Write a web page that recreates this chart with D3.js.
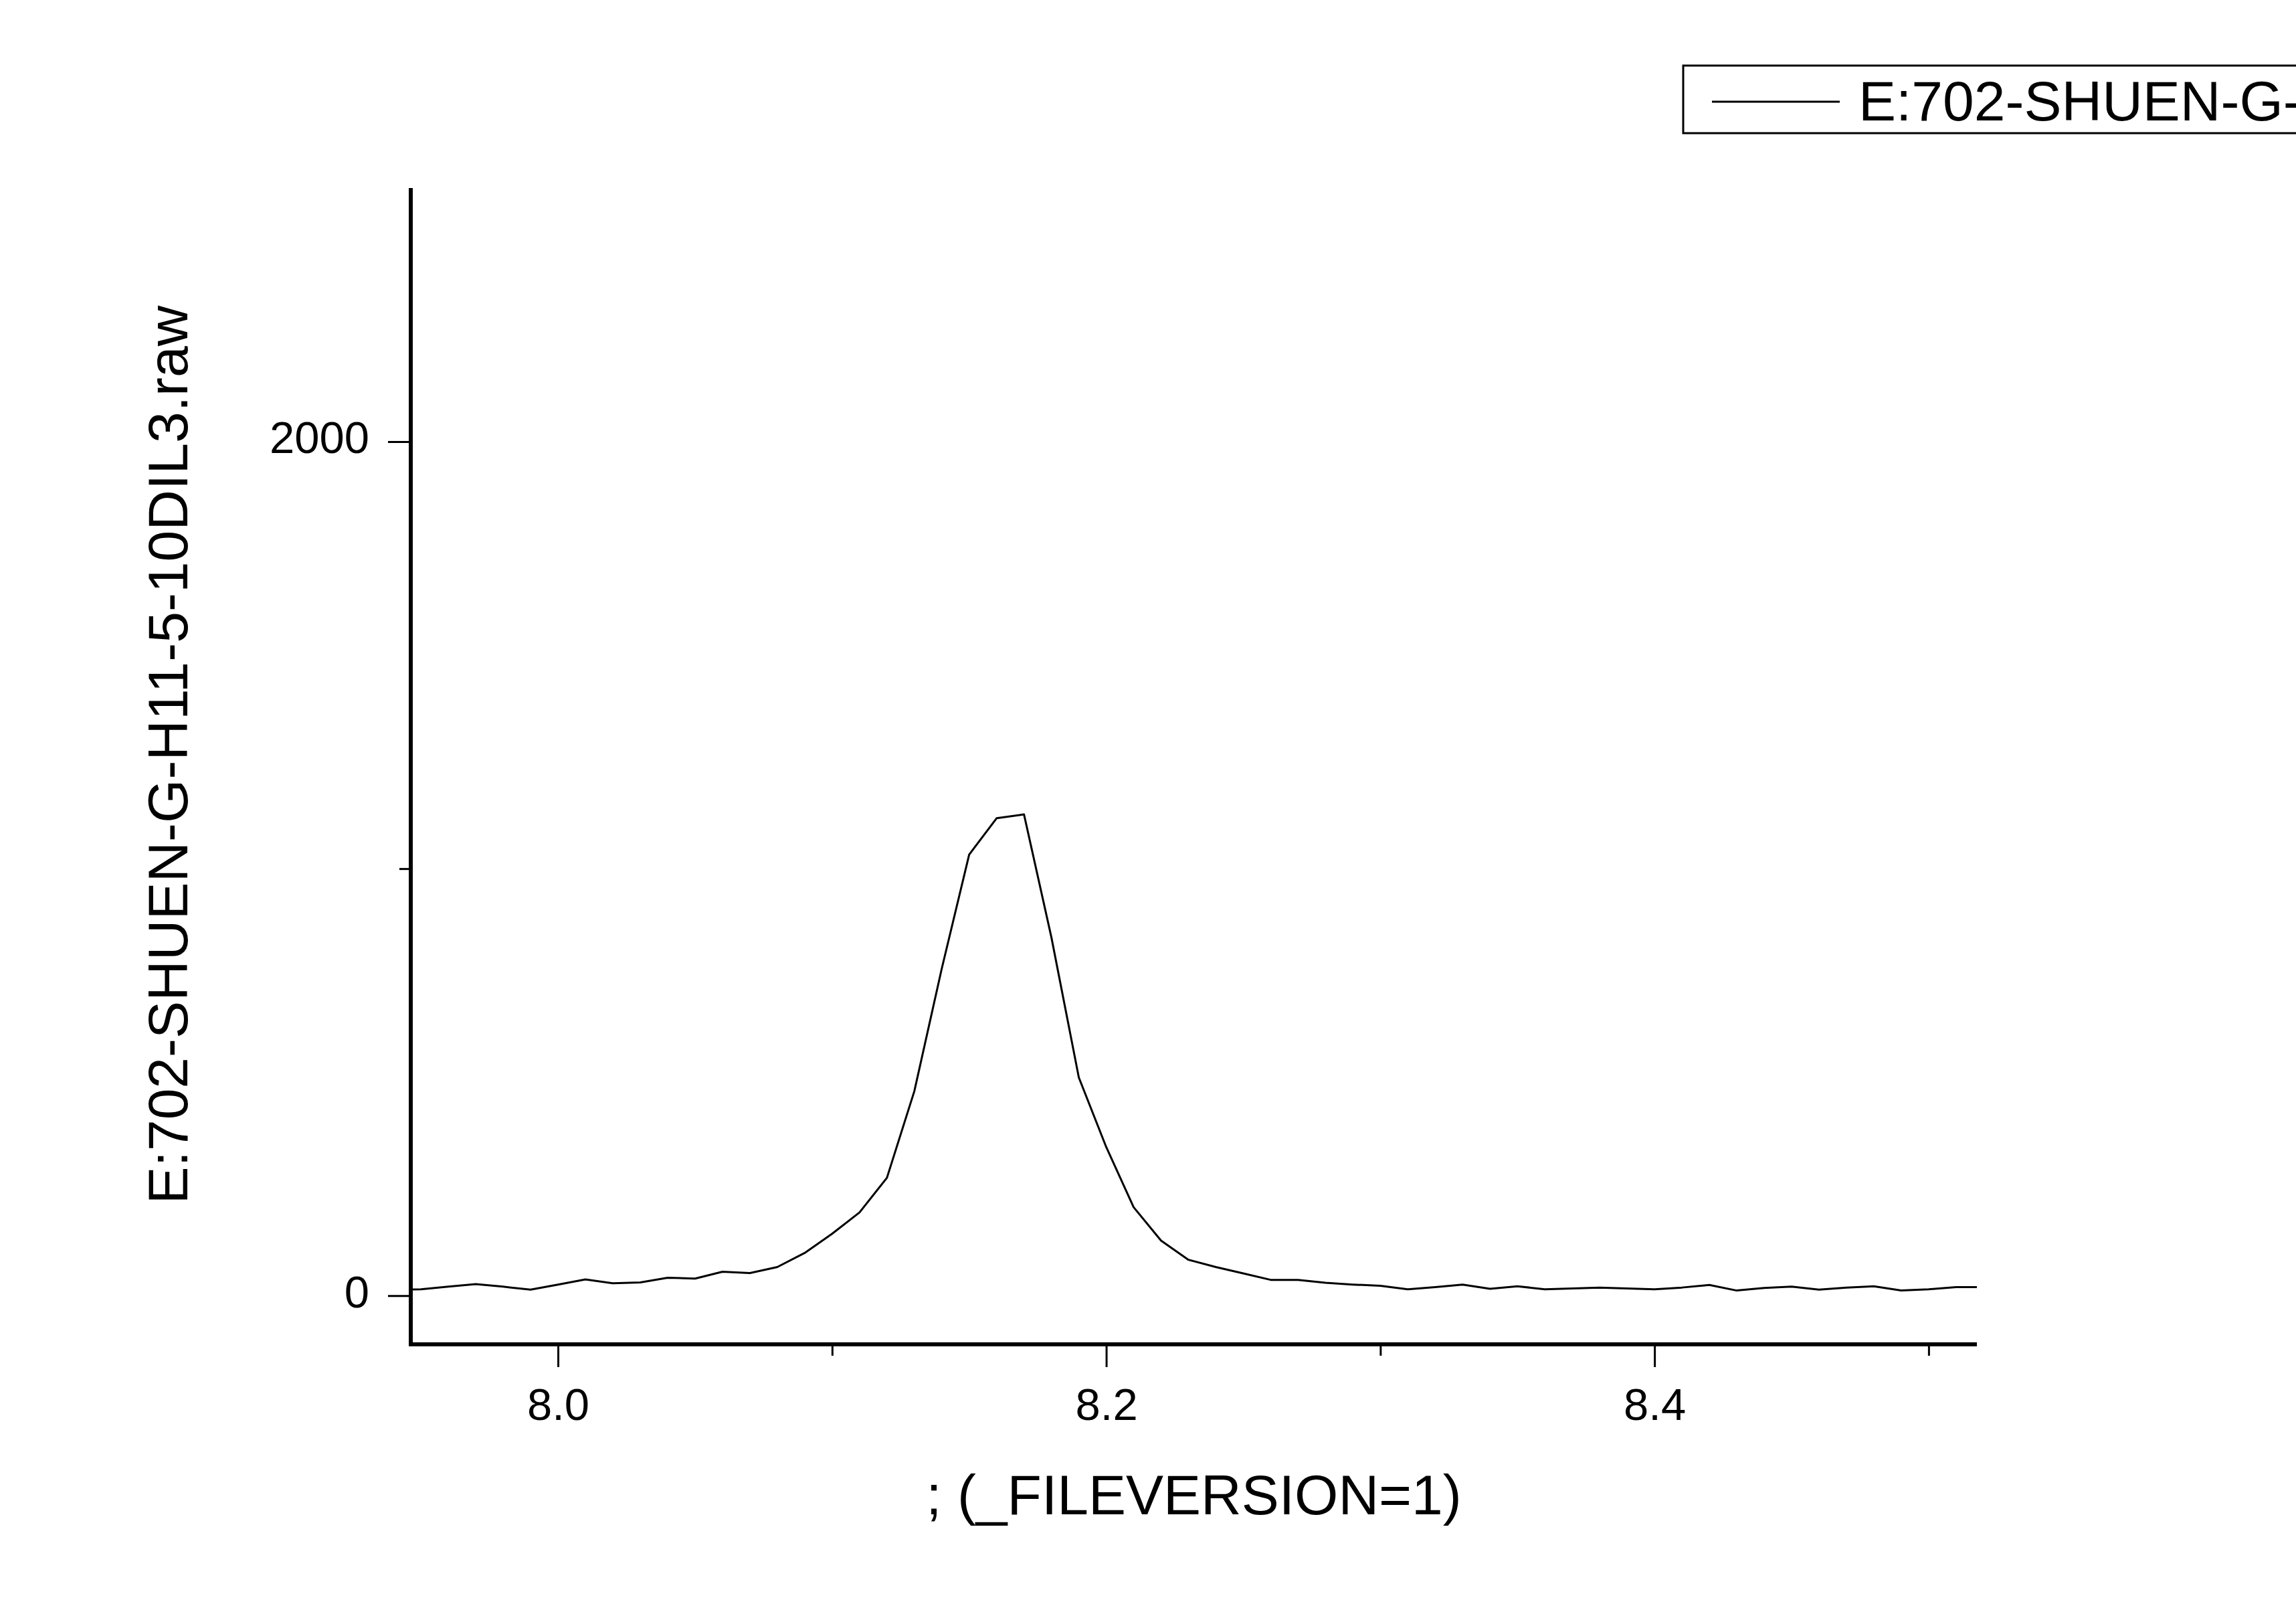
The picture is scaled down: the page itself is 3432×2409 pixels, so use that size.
<!DOCTYPE html>
<html>
<head>
<meta charset="utf-8">
<script src="https://d3js.org/d3.v7.min.js"></script>
<style>
  body { margin: 0; background: #fff; }
  svg { display: block; }
</style>
</head>
<body>
<div id="chart"></div>
<script>
// retention time (min) and intensity
var times = [7.94, 7.95, 7.96, 7.97, 7.98, 7.99, 8.00, 8.01, 8.02, 8.03,
             8.04, 8.05, 8.06, 8.07, 8.08, 8.09, 8.10, 8.11, 8.12, 8.13,
             8.14, 8.15, 8.16, 8.17, 8.18, 8.19, 8.20, 8.21, 8.22, 8.23,
             8.24, 8.25, 8.26, 8.27, 8.28, 8.29, 8.30, 8.31, 8.32, 8.33,
             8.34, 8.35, 8.36, 8.37, 8.38, 8.39, 8.40, 8.41, 8.42, 8.43,
             8.44, 8.45, 8.46, 8.47, 8.48, 8.49, 8.50, 8.51, 8.52];
var intensity = [14, 15, 21, 27, 21, 14, 26, 38, 29, 31,
                 42, 40, 56, 53, 67, 100, 145, 195, 276, 479,
                 766, 1033, 1118, 1127, 839, 511, 348, 207, 129, 84,
                 67, 52, 37, 37, 30, 26, 23, 15, 20, 26,
                 16, 22, 15, 17, 19, 17, 15, 19, 25, 12,
                 18, 21, 14, 19, 22, 12, 15, 20, 20];

var xMajorTicks = [8.0, 8.2, 8.4];
var xMinorTicks = [8.1, 8.3, 8.5];
var yMajorTicks = [0, 2000];
var yMinorTicks = [1000];

var seriesName = "E:702-SHUEN-G-H11-5-10DIL3.raw";
var xTitle = "; (_FILEVERSION=1)";

var W = 3432, H = 2409;
var plot = {left: 614, right: 2955, top: 281, bottom: 2009};
var font = "'Liberation Sans', Arial, sans-serif";

var svg = d3.select("#chart").append("svg")
    .attr("width", W)
    .attr("height", H);

var x = d3.scaleLinear().domain([7.9463, 8.5176]).range([plot.left, plot.right]);
var y = d3.scaleLinear().domain([-114, 2594]).range([plot.bottom, plot.top]);

var data = times.map(function(t, i) { return {t: t, v: intensity[i]}; });

svg.append("clipPath").attr("id", "plotclip")
  .append("rect")
    .attr("x", plot.left).attr("y", plot.top)
    .attr("width", plot.right - plot.left)
    .attr("height", plot.bottom - plot.top);

// the trace
var line = d3.line()
    .x(function(d) { return x(d.t); })
    .y(function(d) { return y(d.v); });

svg.append("path")
    .datum(data)
    .attr("clip-path", "url(#plotclip)")
    .attr("fill", "none")
    .attr("stroke", "#000")
    .attr("stroke-width", 3)
    .attr("stroke-linejoin", "round")
    .attr("d", line);

// x axis: major ticks with labels, minor without
var xMajor = svg.append("g")
    .attr("transform", "translate(0," + plot.bottom + ")")
    .call(d3.axisBottom(x).tickValues(xMajorTicks).tickSize(34).tickSizeOuter(0)
          .tickPadding(31).tickFormat(d3.format(".1f")));
var xMinor = svg.append("g")
    .attr("transform", "translate(0," + plot.bottom + ")")
    .call(d3.axisBottom(x).tickValues(xMinorTicks).tickSize(17).tickSizeOuter(0)
          .tickFormat(""));

var yMajor = svg.append("g")
    .attr("transform", "translate(" + plot.left + ",0)")
    .call(d3.axisLeft(y).tickValues(yMajorTicks).tickSize(34).tickSizeOuter(0)
          .tickPadding(28).tickFormat(d3.format("d")));
var yMinor = svg.append("g")
    .attr("transform", "translate(" + plot.left + ",0)")
    .call(d3.axisLeft(y).tickValues(yMinorTicks).tickSize(17).tickSizeOuter(0)
          .tickFormat(""));

[xMajor, xMinor, yMajor, yMinor].forEach(function(g) {
  g.select(".domain").attr("stroke", "none");
  g.selectAll(".tick line").attr("stroke", "#000").attr("stroke-width", 3);
  g.selectAll(".tick text")
    .attr("fill", "#000")
    .style("font-family", font)
    .style("font-size", "67px");
});
yMajor.selectAll(".tick text").attr("dy", "0.25em");

// thick axis lines
svg.append("line")
    .attr("x1", plot.left).attr("x2", plot.right)
    .attr("y1", plot.bottom).attr("y2", plot.bottom)
    .attr("stroke", "#000").attr("stroke-width", 6);
svg.append("line")
    .attr("x1", plot.left).attr("x2", plot.left)
    .attr("y1", plot.top).attr("y2", plot.bottom + 3)
    .attr("stroke", "#000").attr("stroke-width", 6);

// axis titles
svg.append("text")
    .attr("x", (plot.left + plot.right) / 2)
    .attr("y", 2263)
    .attr("text-anchor", "middle")
    .style("font-family", font)
    .style("font-size", "84px")
    .text(xTitle);

svg.append("text")
    .attr("transform", "translate(280,1128) rotate(-90)")
    .attr("text-anchor", "middle")
    .style("font-family", font)
    .style("font-size", "84px")
    .text(seriesName);

// legend, runs off the right edge like the original
var legend = svg.append("g");
legend.append("rect")
    .attr("x", 2516).attr("y", 98)
    .attr("width", 1400).attr("height", 101)
    .attr("fill", "#fff")
    .attr("stroke", "#000")
    .attr("stroke-width", 3);
legend.append("line")
    .attr("x1", 2559).attr("x2", 2750)
    .attr("y1", 152).attr("y2", 152)
    .attr("stroke", "#000").attr("stroke-width", 3);
legend.append("text")
    .attr("x", 2778).attr("y", 180)
    .style("font-family", font)
    .style("font-size", "84px")
    .text(seriesName);
</script>
</body>
</html>
